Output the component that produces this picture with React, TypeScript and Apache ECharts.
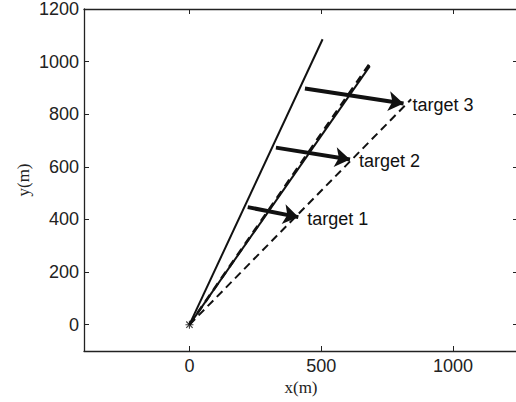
import React, { useEffect, useRef } from "react";
import * as echarts from "echarts";

const xTicks = [0, 500, 1000];
const yTicks = [0, 200, 400, 600, 800, 1000, 1200];

const solidLine = [[0, 0], [505, 1085]];
const middleSolid = [[0, 0], [684, 983]];
const middleDashed = [[0, 0], [682, 990]];
const dashedLine = [[0, 0], [841, 857]];

const arrowStarts = [[221, 447], [328, 673], [438, 898]];
const arrowEnds = [[413, 409], [609, 628], [812, 841]];

const targetNames = ["target 1", "target 2", "target 3"];

const origin = [[0, 0]];

const asteriskPath =
  "path://M-5,-0.7L5,-0.7L5,0.7L-5,0.7Z M-0.7,-5L0.7,-5L0.7,5L-0.7,5Z M-3.5,-4.5L4.5,3.5L3.5,4.5L-4.5,-3.5Z M3.5,-4.5L4.5,-3.5L-3.5,4.5L-4.5,3.5Z";

export default function App() {
  const ref = useRef<HTMLDivElement>(null);
  useEffect(() => {
    if (!ref.current) return;
    const chart = echarts.init(ref.current, undefined, { renderer: "svg" });
    const axisColor = "#222";
    const sans = "'Liberation Sans', Arial, Helvetica, sans-serif";
    const serif = "'Liberation Serif', 'Times New Roman', serif";
    const lineStyleAxis = { show: true, lineStyle: { color: axisColor, width: 1.3 } };
    const tickStyle = { lineStyle: { color: axisColor, width: 1 } };
    const plain = (v: number) => String(v);

    chart.setOption({
      animation: false,
      backgroundColor: "#fff",
      grid: { left: 84, top: 9, width: 435, height: 342, containLabel: false, outerBoundsMode: "none" },
      xAxis: [
        {
          type: "value",
          min: -400,
          max: 1250,
          position: "bottom",
          axisLine: { ...lineStyleAxis, onZero: false },
          axisTick: { show: true, inside: true, length: 5, customValues: xTicks, ...tickStyle },
          axisLabel: { show: true, customValues: xTicks, formatter: plain, color: axisColor, fontFamily: sans, fontSize: 18, margin: 6 },
          splitLine: { show: false },
        },
        {
          type: "value",
          min: -400,
          max: 1250,
          position: "top",
          axisLine: { ...lineStyleAxis, onZero: false },
          axisTick: { show: true, inside: true, length: 5, customValues: xTicks, ...tickStyle },
          axisLabel: { show: false },
          splitLine: { show: false },
        },
      ],
      yAxis: [
        {
          type: "value",
          min: -100,
          max: 1200,
          position: "left",
          axisLine: { ...lineStyleAxis, onZero: false },
          axisTick: { show: true, inside: true, length: 5, customValues: yTicks, ...tickStyle },
          axisLabel: { show: true, customValues: yTicks, formatter: plain, color: axisColor, fontFamily: sans, fontSize: 18, margin: 5 },
          splitLine: { show: false },
        },
        {
          type: "value",
          min: -100,
          max: 1200,
          position: "right",
          axisLine: { show: false, onZero: false },
          axisTick: { show: true, inside: true, length: 6, customValues: yTicks, ...tickStyle },
          axisLabel: { show: false },
          splitLine: { show: false },
        },
      ],
      graphic: [
        {
          type: "text",
          x: 301,
          y: 387,
          style: {
            text: "x(m)",
            font: `17px ${serif}`,
            fill: axisColor,
            align: "center",
            verticalAlign: "middle",
          },
        },
        {
          type: "text",
          x: 23,
          y: 180,
          rotation: Math.PI / 2,
          style: {
            text: "y(m)",
            font: `17px ${serif}`,
            fill: axisColor,
            align: "center",
            verticalAlign: "middle",
          },
        },
      ],
      series: [
        {
          type: "line",
          data: solidLine,
          showSymbol: false,
          symbol: "none",
          lineStyle: { color: "#111", width: 2, type: "solid" },
        },
        {
          type: "line",
          data: middleSolid,
          showSymbol: false,
          symbol: "none",
          lineStyle: { color: "#111", width: 2, type: "solid" },
        },
        {
          type: "line",
          data: middleDashed,
          showSymbol: false,
          symbol: "none",
          lineStyle: { color: "#111", width: 2.6, type: [8, 6] },
        },
        {
          type: "line",
          data: dashedLine,
          showSymbol: false,
          symbol: "none",
          lineStyle: { color: "#111", width: 2, type: [8, 5] },
        },
        {
          type: "lines",
          coordinateSystem: "cartesian2d",
          symbol: ["none", "arrow"],
          symbolSize: [10, 15],
          lineStyle: { color: "#111", width: 4, opacity: 1, curveness: 0 },
          itemStyle: { color: "#111" },
          label: {
            show: true,
            position: "end",
            distance: 9,
            formatter: (p: any) => p.name,
            color: "#111",
            fontFamily: sans,
            fontSize: 18,
          },
          data: arrowStarts.map((s, i) => ({ name: targetNames[i], coords: [s, arrowEnds[i]] })),
        },
        {
          type: "scatter",
          data: origin,
          symbol: asteriskPath,
          symbolSize: 8,
          itemStyle: { color: "#111" },
        },
      ],
    });
    return () => chart.dispose();
  }, []);
  return (
    <div
      ref={ref}
      style={{ position: "absolute", left: 0, top: 0, width: 516, height: 402, background: "#fff" }}
    />
  );
}
